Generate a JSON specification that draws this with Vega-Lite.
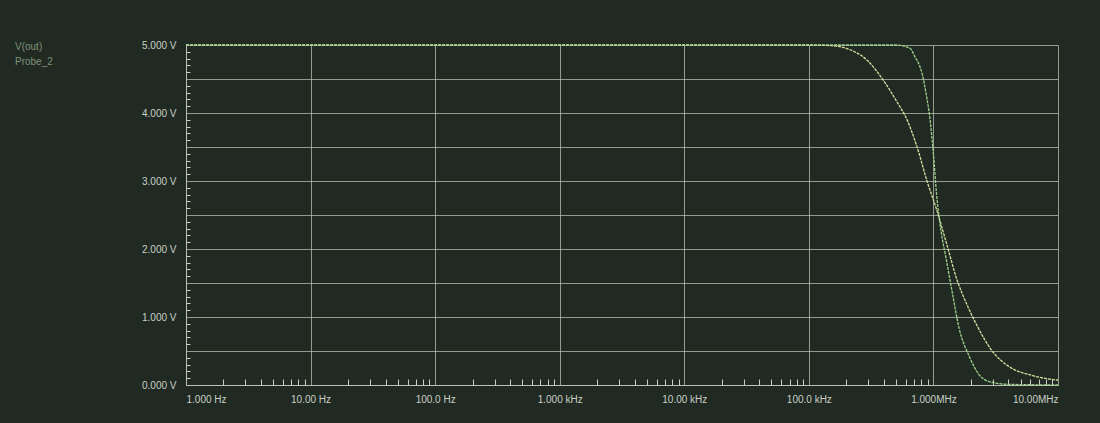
{
  "$schema": "https://vega.github.io/schema/vega-lite/v6.json",
  "width": 872,
  "height": 340,
  "autosize": {"type": "none"},
  "padding": {"left": 186, "top": 45, "right": 42, "bottom": 38},
  "background": "#202a23",
  "config": {
    "view": {"stroke": null},
    "font": "Liberation Sans",
    "axis": {"labelColor": "#c9cfc4", "labelFont": "Liberation Sans", "labelFontSize": 10, "domainColor": "#b8c2b2", "gridColor": "#b8c4b0", "gridOpacity": 0.75, "gridWidth": 1}
  },
  "data": {
    "values": [
      {"f": 1, "v": 5, "s": "V(out)"},
      {"f": 1000, "v": 5, "s": "V(out)"},
      {"f": 100000, "v": 5, "s": "V(out)"},
      {"f": 150000, "v": 4.99, "s": "V(out)"},
      {"f": 200000, "v": 4.95, "s": "V(out)"},
      {"f": 300000, "v": 4.76, "s": "V(out)"},
      {"f": 390000, "v": 4.5, "s": "V(out)"},
      {"f": 535000, "v": 4.1, "s": "V(out)"},
      {"f": 585000, "v": 3.98, "s": "V(out)"},
      {"f": 730000, "v": 3.53, "s": "V(out)"},
      {"f": 895000, "v": 2.98, "s": "V(out)"},
      {"f": 1060000, "v": 2.58, "s": "V(out)"},
      {"f": 1270000, "v": 2.09, "s": "V(out)"},
      {"f": 1550000, "v": 1.54, "s": "V(out)"},
      {"f": 1840000, "v": 1.2, "s": "V(out)"},
      {"f": 2200000, "v": 0.9, "s": "V(out)"},
      {"f": 2960000, "v": 0.5, "s": "V(out)"},
      {"f": 4050000, "v": 0.27, "s": "V(out)"},
      {"f": 6200000, "v": 0.14, "s": "V(out)"},
      {"f": 10000000, "v": 0.07, "s": "V(out)"},
      {"f": 1, "v": 5, "s": "Probe_2"},
      {"f": 1000, "v": 5, "s": "Probe_2"},
      {"f": 500000, "v": 5, "s": "Probe_2"},
      {"f": 650000, "v": 4.95, "s": "Probe_2"},
      {"f": 705000, "v": 4.84, "s": "Probe_2"},
      {"f": 816000, "v": 4.56, "s": "Probe_2"},
      {"f": 880000, "v": 4.25, "s": "Probe_2"},
      {"f": 940000, "v": 3.9, "s": "Probe_2"},
      {"f": 1000000, "v": 3.4, "s": "Probe_2"},
      {"f": 1060000, "v": 2.8, "s": "Probe_2"},
      {"f": 1150000, "v": 2.27, "s": "Probe_2"},
      {"f": 1270000, "v": 1.84, "s": "Probe_2"},
      {"f": 1420000, "v": 1.35, "s": "Probe_2"},
      {"f": 1610000, "v": 0.83, "s": "Probe_2"},
      {"f": 1940000, "v": 0.42, "s": "Probe_2"},
      {"f": 2330000, "v": 0.15, "s": "Probe_2"},
      {"f": 2800000, "v": 0.05, "s": "Probe_2"},
      {"f": 4000000, "v": 0.01, "s": "Probe_2"},
      {"f": 10000000, "v": 0, "s": "Probe_2"}
    ]
  },
  "resolve": {"axis": {"x": "independent", "y": "independent"}},
  "layer": [
    {
      "mark": {"type": "line", "strokeWidth": 1.3, "strokeDash": [3, 1], "interpolate": "monotone"},
      "encoding": {
        "x": {"field": "f", "type": "quantitative", "scale": {"type": "log", "domain": [1, 10000000]},
          "axis": {"orient": "bottom", "title": null, "values": [1, 10, 100, 1000, 10000, 100000, 1000000, 10000000], "tickSize": 0, "labelPadding": 9, "domain": true,
            "labelExpr": "datum.value < 5 ? '1.000 Hz' : datum.value < 50 ? '10.00 Hz' : datum.value < 500 ? '100.0 Hz' : datum.value < 5000 ? '1.000 kHz' : datum.value < 50000 ? '10.00 kHz' : datum.value < 500000 ? '100.0 kHz' : datum.value < 5000000 ? '1.000MHz' : '10.00MHz'"}},
        "y": {"field": "v", "type": "quantitative", "scale": {"domain": [0, 5]},
          "axis": {"orient": "left", "title": null, "values": [0, 0.5, 1, 1.5, 2, 2.5, 3, 3.5, 4, 4.5, 5], "tickSize": 0, "labelPadding": 10,
            "labelExpr": "datum.value % 1 == 0 ? format(datum.value, '.3f') + ' V' : ''"}},
        "color": {"field": "s", "type": "nominal", "sort": ["V(out)", "Probe_2"],
          "scale": {"domain": ["V(out)", "Probe_2"], "range": ["#d9dea0", "#9fd08c"]},
          "legend": {"title": null, "orient": "none", "legendX": -185, "legendY": -3, "symbolOpacity": 0, "symbolSize": 0, "labelColor": "#7f9179", "labelFontSize": 10, "rowPadding": 5, "symbolType": "stroke"}}
      }
    },
    {
      "mark": {"type": "line", "strokeOpacity": 0},
      "encoding": {
        "x": {"field": "f", "type": "quantitative", "scale": {"type": "log", "domain": [1, 10000000]},
          "axis": {"orient": "bottom", "title": null, "labels": false, "grid": false, "domain": false, "tickSize": -6, "tickColor": "#c9d0c3",
            "values": [2,3,4,5,6,7,8,9,20,30,40,50,60,70,80,90,200,300,400,500,600,700,800,900,2000,3000,4000,5000,6000,7000,8000,9000,20000,30000,40000,50000,60000,70000,80000,90000,200000,300000,400000,500000,600000,700000,800000,900000,2000000,3000000,4000000,5000000,6000000,7000000,8000000,9000000]}},
        "y": {"field": "v", "type": "quantitative", "scale": {"domain": [0, 5]},
          "axis": {"orient": "left", "title": null, "labels": false, "grid": false, "domain": false, "tickSize": -4, "tickColor": "#c9d0c3",
            "values": [0.1,0.2,0.3,0.4,0.6,0.7,0.8,0.9,1.1,1.2,1.3,1.4,1.6,1.7,1.8,1.9,2.1,2.2,2.3,2.4,2.6,2.7,2.8,2.9,3.1,3.2,3.3,3.4,3.6,3.7,3.8,3.9,4.1,4.2,4.3,4.4,4.6,4.7,4.8,4.9]}}
      }
    }
  ]
}
